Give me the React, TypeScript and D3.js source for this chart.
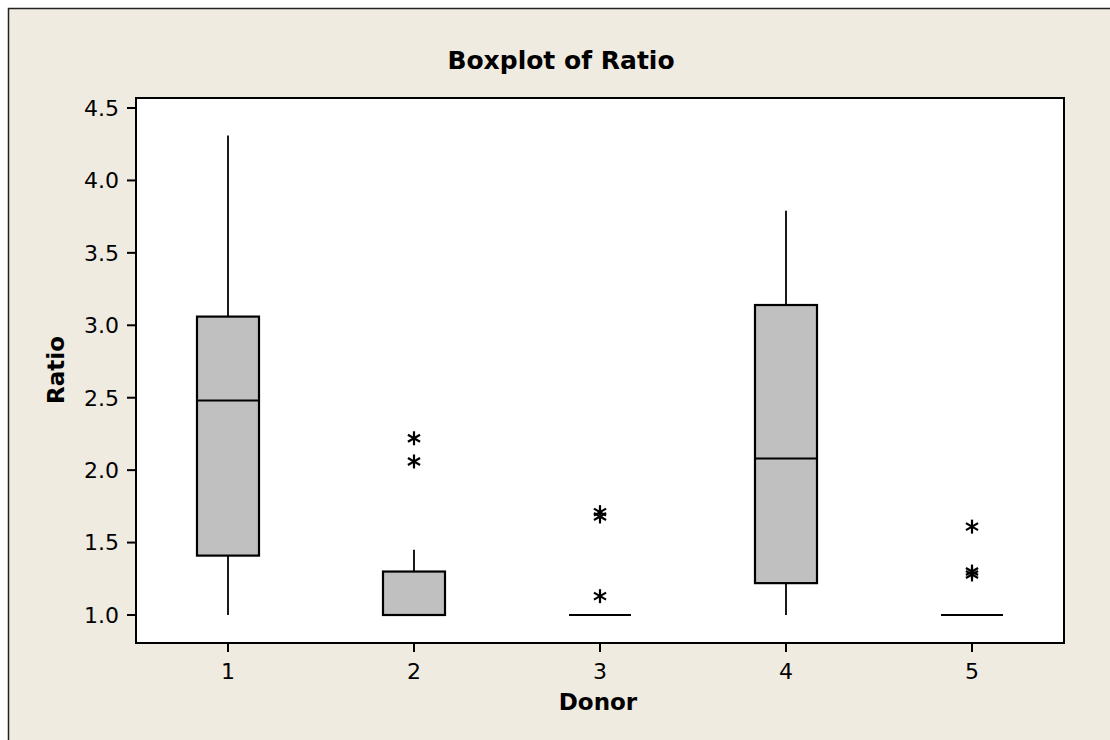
import React from "react";
import * as d3 from "d3";

const categories = ["1", "2", "3", "4", "5"];
const whiskerLow = [1.0, 1.0, 1.0, 1.0, 1.0];
const q1 = [1.41, 1.0, 1.0, 1.22, 1.0];
const median = [2.48, 1.0, 1.0, 2.08, 1.0];
const q3 = [3.06, 1.3, 1.0, 3.14, 1.0];
const whiskerHigh = [4.31, 1.45, 1.0, 3.79, 1.0];
const outliers: number[][] = [[], [2.22, 2.06], [1.71, 1.68, 1.13], [], [1.61, 1.3, 1.28]];
const yTicks = [1.0, 1.5, 2.0, 2.5, 3.0, 3.5, 4.0, 4.5];

const W = 1110;
const H = 740;
const plot = { left: 136, top: 98, right: 1064, bottom: 643 };
const FONT = "'DejaVu Sans', Verdana, sans-serif";

export default function App() {
  const y = d3.scaleLinear().domain([1.0, 4.5]).range([615, 108]);
  const x = d3.scalePoint<string>().domain(categories).range([228, 972]);
  const boxW = 62;

  const star = (cx: number, cy: number, k: string) => {
    const r = 7;
    const a = Math.PI / 6;
    return (
      <g key={k} stroke="#000" strokeWidth={2.2}>
        <line x1={cx} y1={cy - r} x2={cx} y2={cy + r} />
        <line x1={cx - r * Math.cos(a)} y1={cy - r * Math.sin(a)} x2={cx + r * Math.cos(a)} y2={cy + r * Math.sin(a)} />
        <line x1={cx - r * Math.cos(a)} y1={cy + r * Math.sin(a)} x2={cx + r * Math.cos(a)} y2={cy - r * Math.sin(a)} />
      </g>
    );
  };

  return (
    <svg width={W} height={H} style={{ position: "absolute", left: 0, top: 0 }}>
      <rect x={0} y={0} width={W} height={H} fill="#ffffff" />
      <rect x={8.5} y={8.5} width={W + 20} height={H + 20} fill="#EFEBE1" stroke="#222" strokeWidth={1.5} />
      <rect x={plot.left} y={plot.top} width={plot.right - plot.left} height={plot.bottom - plot.top} fill="#fff" stroke="#000" strokeWidth={2} />

      {/* title */}
      <text x={561} y={69} textAnchor="middle" fontFamily={FONT} fontWeight="bold" fontSize={25} fill="#000">
        Boxplot of Ratio
      </text>

      {/* y axis ticks */}
      {yTicks.map((t) => (
        <g key={t}>
          <line x1={plot.left - 9} x2={plot.left} y1={y(t)} y2={y(t)} stroke="#000" strokeWidth={2} />
          <text x={plot.left - 17} y={y(t)} dy="0.36em" textAnchor="end" fontFamily={FONT} fontSize={22} fill="#000">
            {t.toFixed(1)}
          </text>
        </g>
      ))}

      {/* x axis ticks */}
      {categories.map((c) => (
        <g key={c}>
          <line x1={x(c)!} x2={x(c)!} y1={plot.bottom} y2={plot.bottom + 9} stroke="#000" strokeWidth={2} />
          <text x={x(c)!} y={679} textAnchor="middle" fontFamily={FONT} fontSize={22} fill="#000">
            {c}
          </text>
        </g>
      ))}

      {/* axis labels */}
      <text x={598} y={710} textAnchor="middle" fontFamily={FONT} fontWeight="bold" fontSize={23} fill="#000">
        Donor
      </text>
      <text transform={`translate(64,370) rotate(-90)`} textAnchor="middle" fontFamily={FONT} fontWeight="bold" fontSize={23} fill="#000">
        Ratio
      </text>

      {/* boxes */}
      {categories.map((c, i) => {
        const cx = x(c)!;
        return (
          <g key={c}>
            <line x1={cx} x2={cx} y1={y(q3[i])} y2={y(whiskerHigh[i])} stroke="#000" strokeWidth={1.8} />
            <line x1={cx} x2={cx} y1={y(q1[i])} y2={y(whiskerLow[i])} stroke="#000" strokeWidth={1.8} />
            <rect
              x={cx - boxW / 2}
              y={y(q3[i])}
              width={boxW}
              height={Math.max(0, y(q1[i]) - y(q3[i]))}
              fill="#C0C0C0"
              stroke="#000"
              strokeWidth={2.2}
            />
            <line x1={cx - boxW / 2} x2={cx + boxW / 2} y1={y(median[i])} y2={y(median[i])} stroke="#000" strokeWidth={2} />
            {outliers[i].map((v, j) => star(cx, y(v), `${c}-${j}`))}
          </g>
        );
      })}
    </svg>
  );
}
